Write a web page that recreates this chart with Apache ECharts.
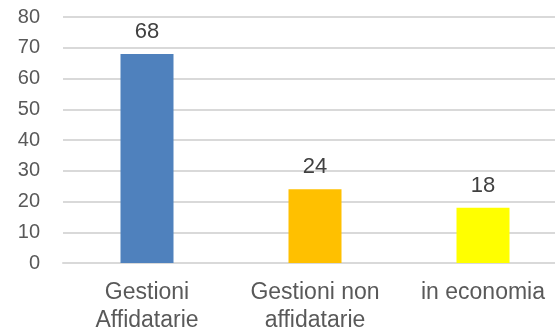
<!DOCTYPE html>
<html>
<head>
<meta charset="utf-8">
<script src="https://cdn.jsdelivr.net/npm/echarts@6/dist/echarts.min.js"></script>
<style>
html, body { margin: 0; padding: 0; background: #fff; }
#chart { width: 555px; height: 329px; }
</style>
</head>
<body>
<div id="chart"></div>
<script>
// dati
var categorie = ['Gestioni\nAffidatarie', 'Gestioni non\naffidatarie', 'in economia'];
var valori = [68, 24, 18];
var colori = ['#4f81bd', '#ffc000', '#ffff00'];

var chart = echarts.init(document.getElementById('chart'));
chart.setOption({
    animation: false,
    textStyle: { fontFamily: 'Liberation Sans, Arial, sans-serif' },
    grid: { left: 63, right: -12, top: 17, bottom: 66, containLabel: false, outerBoundsMode: 'none' },
    xAxis: {
        type: 'category',
        data: categorie,
        axisTick: { show: false },
        axisLine: { lineStyle: { color: '#d9d9d9', width: 2 } },
        axisLabel: { color: '#595959', fontSize: 23, lineHeight: 28, margin: 16, interval: 0 }
    },
    yAxis: {
        type: 'value',
        min: 0,
        max: 80,
        interval: 10,
        axisLine: { show: false },
        axisTick: { show: false },
        splitLine: { lineStyle: { color: '#d9d9d9', width: 2 } },
        axisLabel: { color: '#595959', fontSize: 20, margin: 23 }
    },
    series: [{
        type: 'bar',
        barWidth: 53,
        data: valori.map(function (v, i) {
            return { value: v, itemStyle: { color: colori[i] } };
        }),
        label: {
            show: true,
            position: 'top',
            distance: 11,
            color: '#404040',
            fontSize: 22
        }
    }]
});
</script>
</body>
</html>
